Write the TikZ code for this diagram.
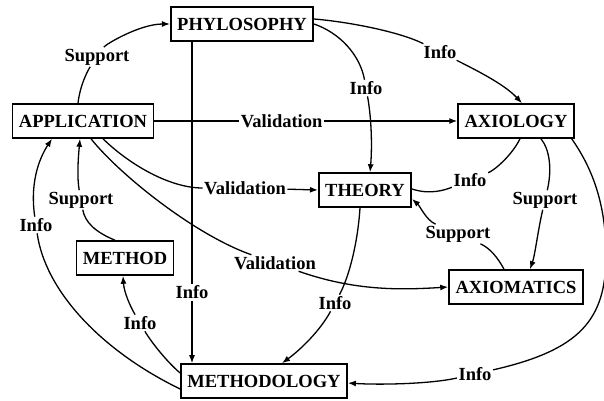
\documentclass[tikz,border=0pt]{standalone}
\usepackage{fontspec}
\setmainfont{Liberation Serif}
\usetikzlibrary{arrows.meta}
\begin{document}
\begin{tikzpicture}[x=1pt,y=-1pt,
  box/.style={draw, line width=1.6pt, fill=white, inner xsep=6.5pt, minimum height=34pt,
    font=\fontsize{18.5}{20}\selectfont\bfseries},
  lbl/.style={fill=white, inner sep=1.5pt, font=\fontsize{18.5}{20}\selectfont\bfseries},
  link/.style={line width=1.3pt},
  arr/.style={link, -{Latex[length=8pt,width=6pt]}}]
\useasboundingbox (0,0) rectangle (604,400);

% concepts
\node[box] (phil) at (242,24)  {PHYLOSOPHY};
\node[box] (app)  at (83,121)  {APPLICATION};
\node[box] (axio) at (516,121) {AXIOLOGY};
\node[box] (theo) at (365,190) {THEORY};
\node[box] (meth) at (125,258) {METHOD};
\node[box] (axm)  at (516,287) {AXIOMATICS};
\node[box] (mdy)  at (264,381) {METHODOLOGY};

% relation labels
\node[lbl] (l1)  at (97,57)   {Support};
\node[lbl] (l3)  at (440,52)  {Info};
\node[lbl] (l4)  at (366,88)  {Info};
\node[lbl] (l6)  at (245,188) {Validation};
\node[lbl] (l7)  at (275,263) {Validation};
\node[lbl] (l8)  at (81,200)  {Support};
\node[lbl] (l9)  at (36,225)  {Info};
\node[lbl] (l10) at (140,323) {Info};
\node[lbl] (l11) at (335,303) {Info};
\node[lbl] (l12) at (470,180) {Info};
\node[lbl] (l13) at (545,200) {Support};
\node[lbl] (l14) at (458,234) {Support};
\node[lbl] (l15) at (475,374) {Info};

% relations
\draw[arr] ([xshift=-5pt]app.north) .. controls (80,85) and (88,70) .. (l1)
  .. controls (106,44) and (140,24) .. (phil.west);
\draw[arr] ([xshift=-50pt]phil.south) -- node[lbl,pos=0.78] {Info} ([xshift=-72pt]mdy.north);
\draw[arr] ([yshift=5pt]phil.east) .. controls (350,22) and (400,32) .. (l3)
  .. controls (480,72) and (505,85) .. ([xshift=6pt]axio.north);
\draw[arr] (phil.east) .. controls (340,33) and (360,55) .. (l4)
  .. controls (372,121) and (372,150) .. ([xshift=5pt]theo.north);
\draw[arr] (app.east) -- node[lbl,pos=0.42] {Validation} (axio.west);
\draw[arr] ([xshift=20pt]app.south) .. controls (130,165) and (170,188) .. (l6) -- (theo.west);
\draw[arr] ([xshift=8pt]app.south) .. controls (120,175) and (195,235) .. (l7)
  .. controls (355,291) and (400,290) .. (axm.west);
\draw[arr] ([xshift=-10pt]meth.north) .. controls (95,232) and (85,222) .. (l8)
  .. controls (77,178) and (78,160) .. ([xshift=-3pt]app.south);
\draw[arr] ([yshift=-8pt]mdy.west) .. controls (100,350) and (45,290) .. (l9)
  .. controls (30,185) and (38,160) .. ([xshift=-31pt]app.south);
\draw[arr] ([yshift=8pt]mdy.west) .. controls (165,360) and (150,340) .. (l10)
  .. controls (130,306) and (124,292) .. ([xshift=-2pt]meth.south);
\draw[arr] ([xshift=-5pt]theo.south) .. controls (358,240) and (350,275) .. (l11)
  .. controls (320,331) and (300,350) .. ([xshift=18pt]mdy.north);
\draw[link] ([xshift=4pt]axio.south) .. controls (512,155) and (495,170) .. (l12)
  .. controls (445,190) and (430,195) .. ([yshift=1pt]theo.east);
\draw[arr] ([xshift=25pt]axio.south) .. controls (550,150) and (552,170) .. (l13)
  .. controls (538,230) and (535,255) .. ([xshift=14pt]axm.north);
\draw[arr] ([xshift=-12pt]axm.north) .. controls (498,258) and (490,248) .. (l14)
  .. controls (426,220) and (420,206) .. ([yshift=-9pt]theo.east);
\draw[arr] ([xshift=-3pt]axio.south east) .. controls (590,165) and (606,200) .. (606,255)
  .. controls (606,320) and (580,350) .. (l15)
  .. controls (430,384) and (380,385) .. ([yshift=-2pt]mdy.east);
\end{tikzpicture}
\end{document}
